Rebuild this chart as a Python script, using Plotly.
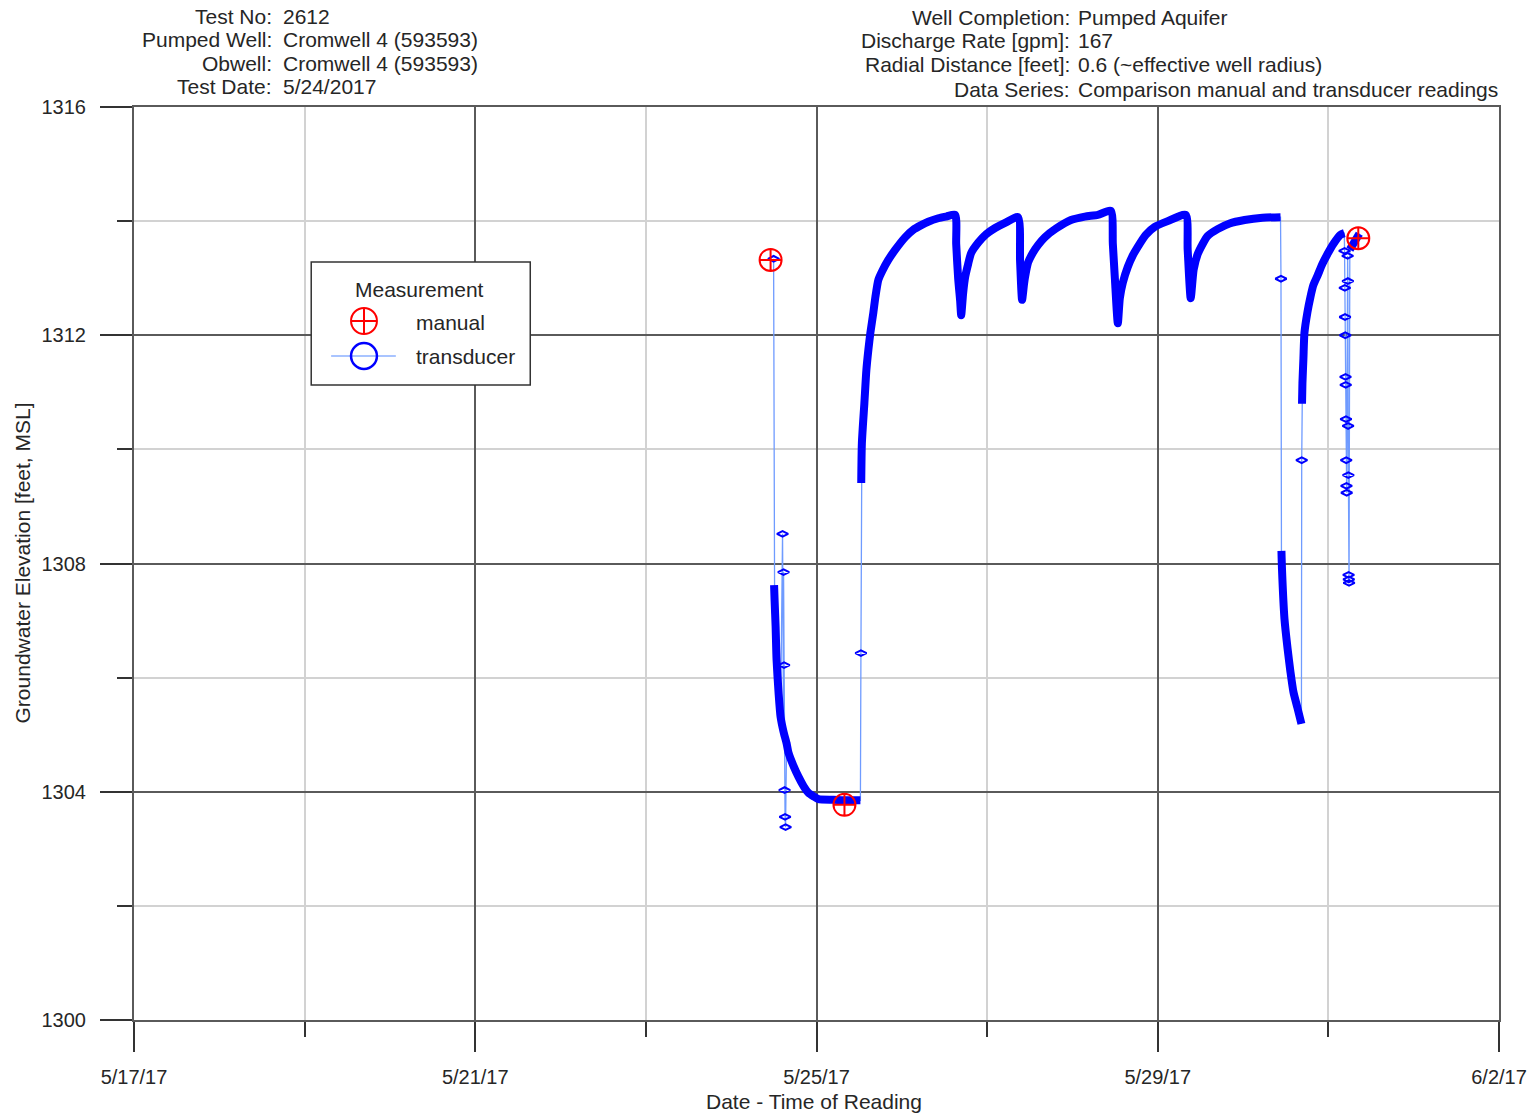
import pandas as pd
import plotly.graph_objects as go

# ---------------------------------------------------------------------------
# Test 2612 - Cromwell 4 (593593): manual vs transducer groundwater levels
# ---------------------------------------------------------------------------

# Manual (tape) readings
manual_time = ["2017-05-24 11:05", "2017-05-25 07:52", "2017-05-31 08:25"]
manual_level = [1313.32, 1303.77, 1313.70]

# Transducer: continuous logging runs
run1_time = ["2017-05-24 12:04", "2017-05-24 12:13", "2017-05-24 12:30", "2017-05-24 12:46",
             "2017-05-24 13:20", "2017-05-24 13:54", "2017-05-24 14:44", "2017-05-24 15:35",
             "2017-05-24 16:08", "2017-05-24 17:33", "2017-05-24 18:57", "2017-05-24 20:21",
             "2017-05-24 21:45", "2017-05-24 23:09", "2017-05-25 00:34", "2017-05-25 04:46",
             "2017-05-25 08:59", "2017-05-25 12:21"]
run1_level = [1307.62, 1307.35, 1306.89, 1306.31, 1305.73, 1305.31, 1305.05, 1304.85,
              1304.68, 1304.45, 1304.26, 1304.10, 1303.98, 1303.92, 1303.87, 1303.86,
              1303.85, 1303.85]

run2_time = ["2017-05-25 12:35", "2017-05-25 12:46", "2017-05-25 13:28", "2017-05-25 14:02",
             "2017-05-25 14:36", "2017-05-25 15:09", "2017-05-25 16:00", "2017-05-25 16:34",
             "2017-05-25 17:24", "2017-05-25 18:32", "2017-05-25 20:12", "2017-05-25 22:10",
             "2017-05-26 00:59", "2017-05-26 03:14", "2017-05-26 05:28", "2017-05-26 07:26",
             "2017-05-26 10:15", "2017-05-26 12:30", "2017-05-26 15:01",
             # pump cycle 1
             "2017-05-26 15:18", "2017-05-26 15:51", "2017-05-26 16:25", "2017-05-26 16:42",
             "2017-05-26 17:16", "2017-05-26 17:49", "2017-05-26 18:40", "2017-05-26 19:30",
             "2017-05-26 21:28", "2017-05-26 23:43", "2017-05-27 02:15", "2017-05-27 05:20",
             "2017-05-27 08:42",
             # pump cycle 2
             "2017-05-27 09:16", "2017-05-27 09:50", "2017-05-27 10:23", "2017-05-27 10:40",
             "2017-05-27 11:30", "2017-05-27 12:55", "2017-05-27 14:19", "2017-05-27 16:17",
             "2017-05-27 19:22", "2017-05-27 23:35", "2017-05-28 03:30", "2017-05-28 07:09",
             "2017-05-28 10:48",
             # pump cycle 3
             "2017-05-28 11:22", "2017-05-28 11:56", "2017-05-28 12:46", "2017-05-28 13:20",
             "2017-05-28 14:10", "2017-05-28 15:35", "2017-05-28 16:59", "2017-05-28 18:23",
             "2017-05-28 20:38", "2017-05-28 23:09", "2017-05-29 02:48", "2017-05-29 07:52",
             # pump cycle 4
             "2017-05-29 08:25", "2017-05-29 09:16", "2017-05-29 10:06", "2017-05-29 11:14",
             "2017-05-29 12:38", "2017-05-29 14:02", "2017-05-29 16:50", "2017-05-29 20:13",
             "2017-05-30 00:25", "2017-05-30 05:28", "2017-05-30 10:32"]
run2_level = [1309.41, 1310.11, 1310.81, 1311.39,
              1311.75, 1312.04, 1312.40, 1312.67,
              1312.97, 1313.13, 1313.32, 1313.50,
              1313.72, 1313.85, 1313.93, 1313.99,
              1314.05, 1314.08, 1314.11,
              1313.60, 1313.00, 1312.60, 1312.35,
              1312.75, 1313.02, 1313.25, 1313.44,
              1313.62, 1313.77, 1313.88, 1313.98,
              1314.07,
              1313.30, 1312.62, 1312.90, 1313.02,
              1313.27, 1313.45, 1313.58, 1313.72,
              1313.87, 1314.02, 1314.08, 1314.11,
              1314.18,
              1313.60, 1313.00, 1312.21, 1312.65,
              1312.92, 1313.20, 1313.40, 1313.55,
              1313.76, 1313.90, 1314.00, 1314.11,
              1313.50, 1312.65, 1313.15, 1313.42,
              1313.60, 1313.74, 1313.86, 1313.96,
              1314.02, 1314.06, 1314.07]

run3_time = ["2017-05-30 10:48", "2017-05-30 10:57", "2017-05-30 11:39", "2017-05-30 12:30",
             "2017-05-30 13:20", "2017-05-30 14:10", "2017-05-30 15:18", "2017-05-30 16:25"]
run3_level = [1308.22, 1307.90, 1307.03, 1306.52, 1306.10, 1305.75, 1305.47, 1305.19]

run4_time = ["2017-05-30 16:35", "2017-05-30 16:42", "2017-05-30 16:59", "2017-05-30 17:16",
             "2017-05-30 18:06", "2017-05-30 18:57", "2017-05-30 19:47", "2017-05-30 20:55",
             "2017-05-30 22:19", "2017-05-30 23:43", "2017-05-31 01:24", "2017-05-31 03:22",
             "2017-05-31 04:29"]
run4_level = [1310.80, 1311.16, 1311.60, 1312.04, 1312.40, 1312.67, 1312.88, 1313.04,
              1313.25, 1313.42, 1313.60, 1313.76, 1313.79]

run5_time = ["2017-05-31 06:02", "2017-05-31 08:42"]
run5_level = [1313.50, 1313.78]

# Transducer: isolated readings between the logging runs
spot_time = ["2017-05-24 11:56", "2017-05-24 14:27", "2017-05-24 14:44", "2017-05-24 14:53",
             "2017-05-24 15:01", "2017-05-24 15:09", "2017-05-24 15:18", "2017-05-25 12:30",
             "2017-05-30 10:40", "2017-05-30 16:30",
             "2017-05-31 04:33", "2017-05-31 04:37", "2017-05-31 04:41", "2017-05-31 04:45",
             "2017-05-31 04:49", "2017-05-31 04:53", "2017-05-31 04:57", "2017-05-31 05:01",
             "2017-05-31 05:05", "2017-05-31 05:09",
             "2017-05-31 05:25", "2017-05-31 05:29", "2017-05-31 05:33", "2017-05-31 05:37",
             "2017-05-31 05:41", "2017-05-31 05:45", "2017-05-31 05:49"]
spot_level = [1313.34, 1308.52, 1307.85, 1306.22,
              1304.03, 1303.56, 1303.38, 1306.43,
              1312.99, 1309.81,
              1313.48, 1312.83, 1312.32, 1312.00,
              1311.27, 1311.13, 1310.53, 1309.81,
              1309.36, 1309.24,
              1313.39, 1312.95, 1310.41, 1309.55,
              1307.80, 1307.72, 1307.66]

# Header block
header_left_labels = ["Test No:", "Pumped Well:", "Obwell:", "Test Date:"]
header_left_values = ["2612", "Cromwell 4 (593593)", "Cromwell 4 (593593)", "5/24/2017"]
header_right_labels = ["Well Completion:", "Discharge Rate [gpm]:", "Radial Distance [feet]:", "Data Series:"]
header_right_values = ["Pumped Aquifer", "167", "0.6 (~effective well radius)",
                       "Comparison manual and transducer readings"]

# ---------------------------------------------------------------------------
FONT = "Liberation Sans, Arial, Helvetica, sans-serif"
TXT = "#262626"
W, H = 1539, 1115
ML, MR, MT, MB = 134, 34, 107, 95
PW, PH = W - ML - MR, H - MT - MB


def fx(p):
    """page pixel column -> paper x"""
    return (p - ML) / PW


def fy(p):
    """page pixel row -> paper y"""
    return (MT + PH - p) / PH


runs = [(run1_time, run1_level), (run2_time, run2_level), (run3_time, run3_level),
        (run4_time, run4_level), (run5_time, run5_level)]

# whole transducer record in time order (thin connecting line)
frames = [pd.DataFrame({"t": t, "h": h}) for t, h in runs]
frames.append(pd.DataFrame({"t": spot_time, "h": spot_level}))
record = pd.concat(frames, ignore_index=True)
record["t"] = pd.to_datetime(record["t"])
record = record.sort_values("t")

# dense runs drawn as a heavy stroke, separated by gaps
thick_t, thick_h = [], []
for t, h in runs:
    thick_t += list(pd.to_datetime(t)) + [None]
    thick_h += list(h) + [None]

fig = go.Figure()
fig.add_trace(go.Scatter(x=record["t"], y=record["h"], mode="lines",
                         line=dict(color="#6f9bff", width=1.3), hoverinfo="skip"))
fig.add_trace(go.Scatter(x=thick_t, y=thick_h, mode="lines", connectgaps=False,
                         line=dict(color="#0000ff", width=8, shape="spline", smoothing=0.6),
                         name="transducer"))
fig.add_trace(go.Scatter(x=pd.to_datetime(spot_time), y=spot_level, mode="markers",
                         marker=dict(symbol="diamond-wide-open", size=8, color="#0000ff",
                                     line=dict(width=2, color="#0000ff")),
                         name="transducer"))
fig.add_trace(go.Scatter(x=pd.to_datetime(manual_time), y=manual_level, mode="markers",
                         marker=dict(symbol="circle-cross-open", size=22, color="#ff0000",
                                     line=dict(width=2, color="#ff0000")),
                         name="manual"))

DAY = 86400000
MAJ = "#5a5a5a"
MIN = "#d2d2d2"
TICKC = "#333333"

fig.update_xaxes(
    type="date", range=["2017-05-17", "2017-06-02"],
    tick0="2017-05-17", dtick=4 * DAY, tickformat="%-m/%-d/%y",
    ticks="outside", ticklen=30, tickwidth=2, tickcolor=TICKC,
    ticklabelstandoff=8,
    showgrid=True, gridcolor=MAJ, gridwidth=2,
    minor=dict(tick0="2017-05-17", dtick=2 * DAY, ticks="outside", ticklen=15,
               tickwidth=2, tickcolor=TICKC, showgrid=True, gridcolor=MIN, gridwidth=2),
    showline=True, linecolor=MAJ, linewidth=2, mirror=True, zeroline=False,
    tickfont=dict(family=FONT, size=20, color=TXT),
)
fig.update_yaxes(
    range=[1300, 1316], tick0=1300, dtick=4,
    ticks="outside", ticklen=32, tickwidth=2, tickcolor=TICKC,
    ticklabelstandoff=10,
    showgrid=True, gridcolor=MAJ, gridwidth=2,
    minor=dict(tick0=1300, dtick=2, ticks="outside", ticklen=15, tickwidth=2,
               tickcolor=TICKC, showgrid=True, gridcolor=MIN, gridwidth=2),
    showline=True, linecolor=MAJ, linewidth=2, mirror=True, zeroline=False,
    tickfont=dict(family=FONT, size=20, color=TXT),
)

ann = []
# header rows
for i, (lab, val) in enumerate(zip(header_left_labels, header_left_values)):
    yy = fy(16 + 23.5 * i)
    ann.append(dict(x=fx(275), y=yy, text=lab, xanchor="right"))
    ann.append(dict(x=fx(282), y=yy, text=val, xanchor="left"))
for i, (lab, val) in enumerate(zip(header_right_labels, header_right_values)):
    yy = fy(17 + 24 * i)
    ann.append(dict(x=fx(1076), y=yy, text=lab, xanchor="right"))
    ann.append(dict(x=fx(1080), y=yy, text=val, xanchor="left"))

# axis titles
ann.append(dict(x=fx(817), y=fy(1101), text="Date - Time of Reading", xanchor="center"))
ann.append(dict(x=fx(22), y=fy(563), text="Groundwater Elevation [feet, MSL]",
                xanchor="center", textangle=-90))

# legend text
ann.append(dict(x=fx(421), y=fy(289), text="Measurement", xanchor="center"))
ann.append(dict(x=fx(415), y=fy(322), text="manual", xanchor="left"))
ann.append(dict(x=fx(415), y=fy(356), text="transducer", xanchor="left"))

for a in ann:
    a.update(xref="paper", yref="paper", yanchor="middle", showarrow=False,
             font=dict(family=FONT, size=21, color=TXT))

shapes = [
    # legend frame
    dict(type="rect", x0=fx(312), x1=fx(532), y0=fy(385), y1=fy(262),
         line=dict(color="#333333", width=1.5), fillcolor="white"),
    # manual symbol
    dict(type="circle", x0=fx(352), x1=fx(378), y0=fy(334), y1=fy(308),
         line=dict(color="#ff0000", width=2)),
    dict(type="line", x0=fx(352), x1=fx(378), y0=fy(321), y1=fy(321),
         line=dict(color="#ff0000", width=2)),
    dict(type="line", x0=fx(365), x1=fx(365), y0=fy(308), y1=fy(334),
         line=dict(color="#ff0000", width=2)),
    # transducer symbol
    dict(type="line", x0=fx(332), x1=fx(397), y0=fy(356), y1=fy(356),
         line=dict(color="#a9c4ff", width=2)),
    dict(type="circle", x0=fx(352), x1=fx(378), y0=fy(369), y1=fy(343),
         line=dict(color="#0000ff", width=2.5)),
]
for s in shapes:
    s.update(xref="paper", yref="paper", layer="above")

fig.update_layout(
    width=W, height=H, autosize=False,
    margin=dict(l=ML, r=MR, t=MT, b=MB, pad=0),
    paper_bgcolor="white", plot_bgcolor="white",
    showlegend=False,
    font=dict(family=FONT, size=21, color=TXT),
    annotations=ann, shapes=shapes,
)

fig.write_html("out.html", post_script="document.body.style.margin='0';")
